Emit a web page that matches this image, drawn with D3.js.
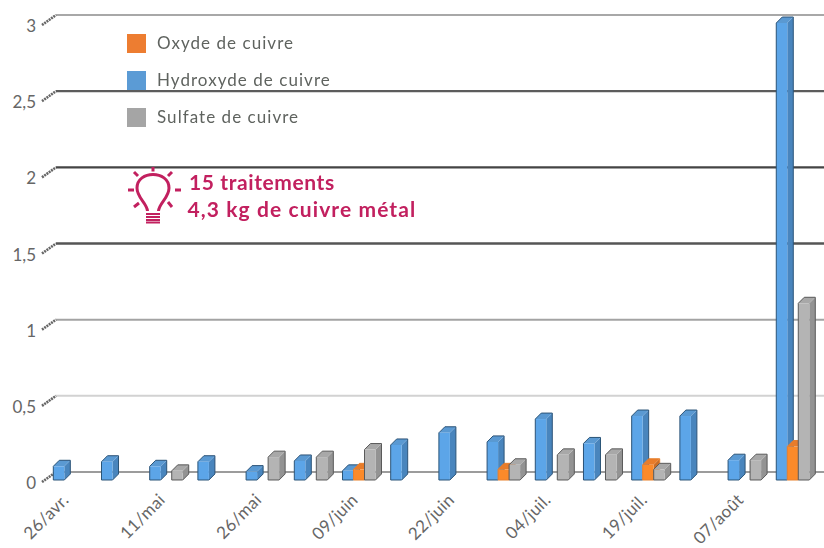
<!DOCTYPE html>
<html>
<head>
<meta charset="utf-8">
<script src="https://cdn.jsdelivr.net/npm/d3@7"></script>
<style>
  html, body { margin: 0; padding: 0; background: #fff; }
  svg { display: block; }
  .axis text { font-family: Lato, sans-serif; font-size: 17px; fill: #666; }
</style>
</head>
<body>
<div id="plot"></div>
<script>
// 16 treatments, only every other date is labelled in the picture
const tickLabels = ["26/avr.", "", "11/mai", "", "26/mai", "", "09/juin", "", "22/juin", "", "04/juil.", "", "19/juil.", "", "07/août", ""];
const yTicks = [0, 0.5, 1, 1.5, 2, 2.5, 3];

const hydroxyde = [0.09, 0.12, 0.09, 0.12, 0.055, 0.125, 0.06, 0.23, 0.31, 0.25, 0.4, 0.24, 0.42, 0.42, 0.13, 3];
const oxyde = [null, null, null, null, null, null, 0.07, null, null, 0.07, null, null, 0.1, null, null, 0.22];
const sulfate = [null, null, 0.06, null, 0.15, 0.15, 0.2, null, null, 0.1, 0.165, 0.165, 0.07, null, 0.13, 1.16];

const legendLabels = ["Oxyde de cuivre", "Hydroxyde de cuivre", "Sulfate de cuivre"];
const noteLines = ["15 traitements", "4,3 kg de cuivre métal"];

const svgWidth = 824, svgHeight = 548;
const depth = 6;           // how far a bar's side goes right and up
const wallX = 14, wallY = 8; // offset from the front of the floor to the back wall

const svg = d3.select("#plot").append("svg")
    .attr("width", svgWidth)
    .attr("height", svgHeight);

// the reference is a resized bitmap, a slight blur gets the marks closer to it
svg.append("defs").append("filter")
    .attr("id", "soft")
    .append("feGaussianBlur")
    .attr("stdDeviation", 0.45);

const y = d3.scaleLinear().domain([0, 3]).range([480, 23]);
const x = d3.scaleBand()
    .domain(d3.range(hydroxyde.length))
    .range([45.7, 816.9])
    .paddingInner(0.315)
    .paddingOuter(0.158);
const x1 = d3.scaleBand()
    .domain(["hydroxyde", "oxyde", "sulfate"])
    .range([0, x.bandwidth()]);

// back wall grid, the source image gives each line a different weight
const gridColors = ["#9c9c9c", "#d2d2d2", "#a3a3a3", "#555555", "#444444", "#5c5c5c", "#a8a8a8"];
const gridWidths = [2, 2, 2, 2.4, 2.4, 2.4, 2];
svg.append("g").selectAll("line")
    .data(yTicks)
    .enter()
    .append("line")
    .attr("x1", 42 + wallX)
    .attr("x2", svgWidth)
    .attr("y1", d => y(d) - wallY)
    .attr("y2", d => y(d) - wallY)
    .attr("stroke", (d, i) => gridColors[i])
    .attr("stroke-width", (d, i) => gridWidths[i]);

// hatched little ticks going back to the wall
svg.append("g").selectAll("line")
    .data(yTicks)
    .enter()
    .append("line")
    .attr("x1", 42)
    .attr("x2", 42 + wallX)
    .attr("y1", d => y(d) + 2)
    .attr("y2", d => y(d) - wallY)
    .attr("stroke", "#666")
    .attr("stroke-width", 2.6)
    .attr("stroke-dasharray", "2 0.8");

const yAxis = svg.append("g")
    .attr("class", "axis")
    .attr("transform", "translate(36,0)")
    .call(d3.axisLeft(y).tickValues(yTicks).tickSize(0).tickPadding(0)
        .tickFormat(d => String(d).replace(".", ",")));
yAxis.select(".domain").remove();
yAxis.selectAll("text").attr("dy", "0.5em");

const xAxis = svg.append("g")
    .attr("class", "axis")
    .attr("transform", "translate(0,480)")
    .call(d3.axisBottom(x).tickSize(0).tickFormat(i => tickLabels[i]));
xAxis.select(".domain").remove();
xAxis.selectAll("text")
    .attr("text-anchor", "end")
    .attr("dy", 0)
    .attr("y", 0)
    .attr("letter-spacing", 0.3)
    .attr("transform", "translate(0,21) rotate(-45)");

const seriesStyles = {
    hydroxyde: { front: "#5ca5e8", side: "#4a85bd", top: "#5a99d2", edge: "#2c5478" },
    oxyde: { front: "#fb8a2c", side: "#c96c26", top: "#e87b2c", edge: "#e8802e" },
    sulfate: { front: "#b4b4b4", side: "#939393", top: "#a8a8a8", edge: "#5a5a5a" }
};

const bars = [];
hydroxyde.forEach((v, i) => {
    if (v !== null) bars.push({ key: "hydroxyde", i: i, value: v });
    if (oxyde[i] !== null) bars.push({ key: "oxyde", i: i, value: oxyde[i] });
    if (sulfate[i] !== null) bars.push({ key: "sulfate", i: i, value: sulfate[i] });
});

const bar = svg.append("g")
    .attr("filter", "url(#soft)")
    .selectAll("g")
    .data(bars)
    .enter()
    .append("g")
    .attr("transform", d => "translate(" + (x(d.i) + x1(d.key)) + "," + y(d.value) + ")");

const barW = x1.bandwidth();

// side
bar.append("path")
    .attr("d", d => {
        const h = y(0) - y(d.value);
        return "M" + barW + ",0 l" + depth + "," + (-depth) + " v" + h + " l" + (-depth) + "," + depth + "z";
    })
    .attr("fill", d => seriesStyles[d.key].side);

// top
bar.append("path")
    .attr("d", "M0,0 l" + depth + "," + (-depth) + " h" + barW + " l" + (-depth) + "," + depth + "z")
    .attr("fill", d => seriesStyles[d.key].top);

// front
bar.append("rect")
    .attr("width", barW)
    .attr("height", d => y(0) - y(d.value))
    .attr("fill", d => seriesStyles[d.key].front);

// outline only, no edges inside the box
bar.append("path")
    .attr("d", d => {
        const h = y(0) - y(d.value);
        return "M0,0 l" + depth + "," + (-depth) + " h" + barW + " v" + h + " l" + (-depth) + "," + depth + " h" + (-barW) + "z";
    })
    .attr("fill", "none")
    .attr("stroke", d => seriesStyles[d.key].edge)
    .attr("stroke-width", 1);

// legend
const legendColors = ["#ed7d31", "#5b9bd5", "#a5a5a5"];
const legend = svg.append("g").selectAll("g")
    .data(legendLabels)
    .enter()
    .append("g")
    .attr("transform", (d, i) => "translate(127," + (34 + i * 37) + ")");
legend.append("rect")
    .attr("width", 19)
    .attr("height", 19)
    .attr("fill", (d, i) => legendColors[i]);
legend.append("text")
    .attr("x", 30)
    .attr("y", 14.5)
    .attr("font-family", "Lato, sans-serif")
    .attr("font-size", 17)
    .attr("letter-spacing", 1.05)
    .attr("fill", "#5f635f")
    .text(d => d);

// note with the light bulb
const pink = "#c2205f";
const bulb = svg.append("g")
    .attr("transform", "translate(153,189)")
    .attr("fill", "none")
    .attr("stroke", pink)
    .attr("stroke-width", 3);
bulb.append("path")
    .attr("d", "M-5.5,22 C-6,14 -16,9 -16,-1 C-16,-10 -8,-14.5 0,-14.5 C8,-14.5 16,-10 16,-1 C16,9 6,14 5.5,22");
bulb.append("path")
    .attr("d", "M-7,25 H7 M-7,28 H7 M-7,31 H7 M-7,33.5 H7")
    .attr("stroke-width", 1.8);
bulb.append("path")
    .attr("d", "M0,-22 V-17.5 M-19,-17 L-15,-13 M19,-17 L15,-13 M-25,1 H-19 M28,1 H22 M-19,18 L-14,14 M19,18 L15,13");

svg.append("g").selectAll("text")
    .data(noteLines)
    .enter()
    .append("text")
    .attr("x", (d, i) => 189 - i * 1.5)
    .attr("y", (d, i) => 190 + i * 27)
    .attr("font-family", "Lato, sans-serif")
    .attr("font-weight", "bold")
    .attr("font-size", 21)
    .attr("letter-spacing", (d, i) => i === 0 ? 0.6 : 1.1)
    .attr("fill", pink)
    .text(d => d);
</script>
</body>
</html>
